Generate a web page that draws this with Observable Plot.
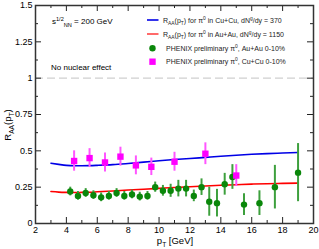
<!DOCTYPE html>
<html>
<head>
<meta charset="utf-8">
<script src="https://cdn.jsdelivr.net/npm/d3@7"></script>
<script src="https://cdn.jsdelivr.net/npm/@observablehq/plot@0.6"></script>
<style>
  html, body { margin: 0; padding: 0; background: #fff; }
  #chart svg { display: block; }
</style>
</head>
<body>
<div id="chart"></div>
<script>
// ---- Data ----
const curvePt = [3, 3.5, 4, 4.5, 5, 5.5, 6, 7, 8, 9, 10, 11, 12, 13, 14, 15, 16, 17, 18, 19];
const raaCuCu = [0.415, 0.407, 0.400, 0.397, 0.397, 0.398, 0.400, 0.405, 0.413, 0.422, 0.432, 0.440, 0.447, 0.455, 0.463, 0.470, 0.476, 0.481, 0.485, 0.489];
const raaAuAu = [0.220, 0.216, 0.214, 0.213, 0.214, 0.215, 0.218, 0.224, 0.230, 0.236, 0.242, 0.248, 0.253, 0.258, 0.263, 0.267, 0.271, 0.274, 0.276, 0.278];

const auPt  = [4.25, 4.75, 5.25, 5.75, 6.25, 6.75, 7.25, 7.75, 8.25, 8.75, 9.25, 9.75, 10.25, 10.75, 11.25, 11.75, 12.25, 12.75, 13.25, 13.75, 14.25, 14.75, 15.5, 16.5, 17.5, 19];
const auRaa = [0.22, 0.19, 0.21, 0.195, 0.18, 0.19, 0.21, 0.19, 0.20, 0.185, 0.19, 0.25, 0.225, 0.225, 0.24, 0.24, 0.19, 0.25, 0.15, 0.14, 0.27, 0.32, 0.13, 0.14, 0.25, 0.35];
const auErr = [0.03, 0.03, 0.03, 0.03, 0.03, 0.03, 0.03, 0.03, 0.03, 0.03, 0.03, 0.035, 0.037, 0.045, 0.057, 0.057, 0.04, 0.057, 0.10, 0.095, 0.075, 0.085, 0.075, 0.085, 0.15, 0.2];

const cuPt  = [4.5, 5.5, 6.5, 7.5, 8.5, 9.5, 11, 13, 15];
const cuRaa = [0.43, 0.45, 0.42, 0.46, 0.40, 0.39, 0.425, 0.48, 0.33];
const cuErr = [0.07, 0.065, 0.065, 0.065, 0.065, 0.06, 0.065, 0.075, 0.075];

const xMajor = [2, 4, 6, 8, 10, 12, 14, 16, 18, 20];
const xMinor = [3, 5, 7, 9, 11, 13, 15, 17, 19];
const yMajor = [0, 0.25, 0.5, 0.75, 1, 1.25, 1.5];
const yMajorLabels = ["0", "0.25", "0.5", "0.75", "1", "1.25", "1.5"];
const yMinor = [0.125, 0.375, 0.625, 0.875, 1.125, 1.375];

// ---- Tables built from the arrays ----
const curveCu = curvePt.map((x, i) => ({x, y: raaCuCu[i]}));
const curveAu = curvePt.map((x, i) => ({x, y: raaAuAu[i]}));
const auData = auPt.map((x, i) => ({x, y: auRaa[i], e: auErr[i]}));
const cuData = cuPt.map((x, i) => ({x, y: cuRaa[i], e: cuErr[i]}));

const W = 319, H = 249;
const mt = 5, mb = 26, ml = 35, mr = 6;
const ph = H - mt - mb, pw = W - ml - mr;
const tickCol = "#222";

const chart = Plot.plot({
  width: W, height: H,
  marginTop: mt, marginBottom: mb, marginLeft: ml, marginRight: mr,
  style: {fontFamily: "'Liberation Sans', Arial, sans-serif", background: "#fff", color: "#000"},
  x: {domain: [2, 20], label: null},
  y: {domain: [0, 1.5], label: null},
  marks: [
    Plot.ruleY([1], {stroke: "#cfcfcf", strokeWidth: 1.3, strokeDasharray: "8,4"}),
    // inward ticks, bottom & top
    Plot.tickX(xMajor, {x: d => d, insetTop: ph - 6, stroke: tickCol}),
    Plot.tickX(xMinor, {x: d => d, insetTop: ph - 3, stroke: tickCol}),
    Plot.tickX(xMajor, {x: d => d, insetBottom: ph - 6, stroke: tickCol}),
    Plot.tickX(xMinor, {x: d => d, insetBottom: ph - 3, stroke: tickCol}),
    // inward ticks, left & right
    Plot.tickY(yMajor, {y: d => d, insetRight: pw - 6, stroke: tickCol}),
    Plot.tickY(yMinor, {y: d => d, insetRight: pw - 3, stroke: tickCol}),
    Plot.tickY(yMajor, {y: d => d, insetLeft: pw - 6, stroke: tickCol}),
    Plot.tickY(yMinor, {y: d => d, insetLeft: pw - 3, stroke: tickCol}),
    Plot.axisX(xMajor, {anchor: "bottom", tickSize: 0, tickPadding: 3, fontSize: 9, label: null, tickFormat: d => String(d)}),
    Plot.axisY(yMajor, {anchor: "left", tickSize: 0, tickPadding: 3, fontSize: 9, label: null, tickFormat: (d, i) => yMajorLabels[i]}),
    // model curves
    Plot.line(curveCu, {x: "x", y: "y", stroke: "#0000e6", strokeWidth: 1.6, curve: "monotone-x"}),
    Plot.line(curveAu, {x: "x", y: "y", stroke: "#ff0000", strokeWidth: 1.6, curve: "monotone-x"}),
    // error bars
    Plot.ruleX(auData, {x: "x", y1: d => d.y - d.e, y2: d => d.y + d.e, stroke: "#3da03d", strokeWidth: 2}),
    Plot.ruleX(cuData, {x: "x", y1: d => d.y - d.e, y2: d => d.y + d.e, stroke: "#ff55ff", strokeWidth: 2}),
    // points
    Plot.dot(auData, {x: "x", y: "y", r: 3.2, fill: "#0a870a"}),
    Plot.dot(cuData, {x: "x", y: "y", r: 3.6, symbol: "square", fill: "#ff00ff"}),
    Plot.frame({stroke: "#333", strokeWidth: 1.5})
  ]
});

document.getElementById("chart").appendChild(chart);

// ---- Rich text (sub/superscripts) ----
const svg = d3.select(chart);
function rich(g, x, y, parts, size, opts = {}) {
  const t = g.append("text")
    .attr("x", x).attr("y", y)
    .attr("font-size", size)
    .attr("font-family", "'Liberation Sans', Arial, sans-serif")
    .attr("text-anchor", opts.anchor || "start")
    .attr("fill", opts.fill || "#000");
  if (opts.transform) t.attr("transform", opts.transform);
  let cur = 0;
  for (const [txt, kind] of parts) {
    let target = 0, fs = size;
    if (kind === "sub") { target = size * 0.35; fs = size * 0.7; }
    if (kind === "sup") { target = -size * 0.4; fs = size * 0.7; }
    t.append("tspan").attr("dy", target - cur).attr("font-size", fs).text(txt);
    cur = target;
  }
  return t;
}

const ann = svg.append("g");
// annotations
rich(ann, 52, 24, [["s", null], ["1/2", "sup"], ["NN", "sub"], [" = 200 GeV", null]], 8);
rich(ann, 51, 70, [["No nuclear effect", null]], 8);

// axis titles
rich(ann, 175, 244, [["p", null], ["T", "sub"], [" [GeV]", null]], 9.5, {anchor: "middle"});
rich(ann, 0, 0, [["R", null], ["AA", "sub"], ["(p", null], ["T", "sub"], [")", null]], 9.5,
  {anchor: "middle", transform: "translate(11,125) rotate(-90)"});

// legend
const lg = svg.append("g");
const legRows = [20, 34, 48.3, 61.7];
lg.append("line").attr("x1", 147).attr("x2", 158.5).attr("y1", legRows[0]).attr("y2", legRows[0]).attr("stroke", "#0000e6").attr("stroke-width", 1.6);
lg.append("line").attr("x1", 147).attr("x2", 158.5).attr("y1", legRows[1]).attr("y2", legRows[1]).attr("stroke", "#ff4444").attr("stroke-width", 1.6);
lg.append("circle").attr("cx", 152.5).attr("cy", legRows[2]).attr("r", 3.2).attr("fill", "#0a870a");
lg.append("rect").attr("x", 152.5 - 3.2).attr("y", legRows[3] - 3.2).attr("width", 6.4).attr("height", 6.4).attr("fill", "#ff00ff");

const ls = 7.0;
const lc = {fill: "#222"};
rich(lg, 163, legRows[0] + 2.5, [["R", null], ["AA", "sub"], ["(p", null], ["T", "sub"], [") for \u03c0", null], ["0", "sup"], [" in Cu+Cu, dN", null], ["g", "sup"], ["/dy = 370", null]], ls, lc);
rich(lg, 163, legRows[1] + 2.5, [["R", null], ["AA", "sub"], ["(p", null], ["T", "sub"], [") for \u03c0", null], ["0", "sup"], [" in Au+Au, dN", null], ["g", "sup"], ["/dy = 1150", null]], ls, lc);
rich(lg, 166, legRows[2] + 2.5, [["PHENIX preliminary \u03c0", null], ["0", "sup"], [", Au+Au 0-10%", null]], ls, lc);
rich(lg, 166, legRows[3] + 2.5, [["PHENIX preliminary \u03c0", null], ["0", "sup"], [", Cu+Cu 0-10%", null]], ls, lc);
</script>
</body>
</html>
